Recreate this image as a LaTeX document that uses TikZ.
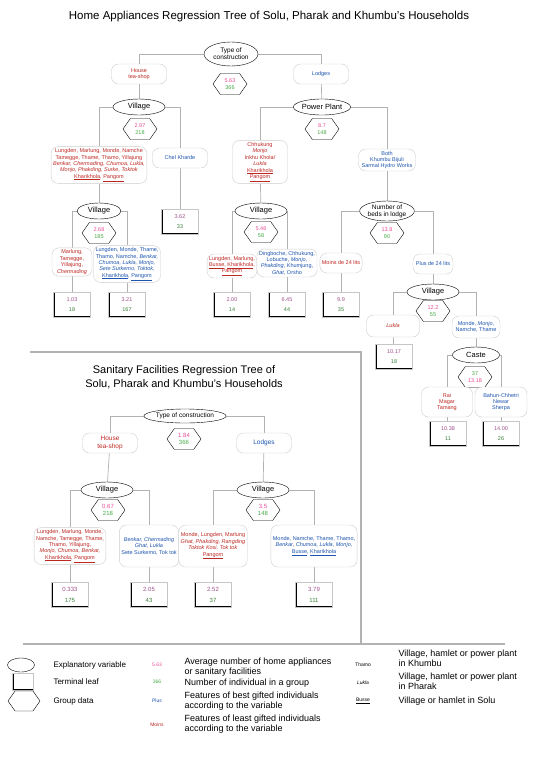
\documentclass[tikz,border=0pt]{standalone}
\usepackage{fontspec}
\setmainfont{Liberation Sans}
\usepackage{xcolor}
\usetikzlibrary{shapes.geometric,shapes.symbols,backgrounds}

\definecolor{avgpink}{RGB}{232,78,150}
\definecolor{cntgreen}{RGB}{70,170,70}
\definecolor{leafmauve}{RGB}{160,80,140}
\definecolor{leafgreen}{RGB}{60,130,60}
\definecolor{lowred}{RGB}{190,40,35}
\definecolor{highblue}{RGB}{30,85,175}

\newcommand{\grpval}[2]{\textcolor{avgpink}{#1}\\[1pt]\textcolor{cntgreen}{#2}}
\newcommand{\leafval}[2]{\textcolor{leafmauve}{#1}\\[4pt]\textcolor{leafgreen}{#2}}

\begin{document}
\begin{tikzpicture}[
  x=1pt, y=-1pt,
  varnode/.style={ellipse, draw, fill=white, inner sep=0pt,
                  minimum width=52pt, minimum height=16pt, align=center,
                  font=\fontsize{7.5}{8}\selectfont},
  catbox/.style={rectangle, rounded corners=7pt, draw=gray!40, fill=white,
                 align=center, inner sep=2pt, minimum width=40pt,
                 minimum height=20pt, font=\fontsize{5.5}{6.4}\selectfont},
  grp/.style={signal, signal to=east and west, signal pointer angle=110,
              draw, fill=white, inner sep=0pt, minimum width=34pt,
              minimum height=21pt, align=center,
              font=\fontsize{5.5}{6}\selectfont},
  leafbox/.style={rectangle, draw=gray!45, fill=white, minimum width=37pt,
                  minimum height=25pt, inner sep=0pt, align=center,
                  font=\fontsize{5.5}{6}\selectfont,
                  path picture={\draw[black, line width=2.2pt]
                    (path picture bounding box.north west) --
                    (path picture bounding box.south west) --
                    (path picture bounding box.south east);}},
  conn/.style={draw=gray!60, line width=0.7pt},
  frame/.style={draw=gray!60, line width=1.2pt},
  legtext/.style={anchor=west, align=left, font=\fontsize{9}{9.8}\selectfont},
]
\useasboundingbox (0,0) rectangle (536,772);

% Titles
\node[font=\fontsize{11.5}{13}\selectfont] (title) at (269,17)
  {Home Appliances Regression Tree of Solu, Pharak and Khumbu's Households};
\node[font=\fontsize{11}{13.5}\selectfont, align=center] (subtitle) at (184,377)
  {Sanitary Facilities Regression Tree of\\Solu, Pharak and Khumbu's Households};

% Frame of the second tree
\draw[frame] (30,352) -- (361,352) -- (361,644);
\draw[frame] (23,644) -- (505,644);

% ---------------- Home appliances tree ----------------
\node[varnode, minimum width=54pt, minimum height=24pt,
      font=\fontsize{6.5}{7}\selectfont] (t0) at (231,54) {Type of\\construction};
\node[grp] (g0) at (230,84) {\grpval{5.63}{366}};
\node[catbox, minimum width=55pt, text=lowred] (c0L) at (139,74) {House\\tea-shop};
\node[catbox, minimum width=55pt, text=highblue] (c0R) at (321,74) {Lodges};

% Village under house / tea-shop
\node[varnode] (v1) at (139,107) {Village};
\node[grp] (g1) at (140,129) {\grpval{2.97}{218}};
\node[catbox, text=lowred] (c1L) at (99,165)
  {Lungden, Marlung, Monde, Namche\\Tamegge, Thame, Thamo, Yillajung\\
   \textit{Benkar, Chermading, Chumoa, Lukla,}\\
   \textit{Monjo, Phakding, Surke, Toktok}\\
   \underline{Kharikhola}, \underline{Pangom}};
\node[catbox, minimum width=55pt, text=highblue] (c1R) at (180,158) {Chel Kharde};
\node[leafbox] (l1R) at (180,222) {\leafval{3.62}{33}};

\node[varnode, minimum width=44pt] (v2) at (99,211) {Village};
\node[grp] (g2) at (99,233) {\grpval{2.68}{185}};
\node[catbox, text=lowred] (c2L) at (72,262)
  {Marlung,\\Tamegge,\\Yillajung,\\\textit{Chermading}};
\node[catbox, text=highblue] (c2R) at (127,264)
  {Lungden, Monde, Thame,\\Thamo, Namche, \textit{Benkar,}\\
   \textit{Chumoa, Lukla, Monjo,}\\\textit{Sete Surkemo, Toktok,}\\
   \underline{Kharikhola}, \underline{Pangom}};
\node[leafbox] (l2L) at (72,305) {\leafval{1.03}{18}};
\node[leafbox] (l2R) at (127,305) {\leafval{3.21}{167}};

% Power plant under lodges
\node[varnode, minimum width=57pt] (v0R) at (322,107) {Power Plant};
\node[grp] (g0R) at (322,129) {\grpval{8.7}{148}};
\node[catbox, minimum width=55pt, text=lowred] (c3L) at (260,162)
  {Chhukung\\\textit{Monjo}\\Inkhu Khola/\\\textit{Lukla}\\
   \underline{Kharikhola}\\\underline{Pangom}};
\node[catbox, minimum width=57pt, text=highblue] (c3R) at (387,160)
  {Both\\Khumbu Bijuli\\Sarmal Hydro Works};

\node[varnode] (v3) at (261,211) {Village};
\node[grp] (g3) at (261,232) {\grpval{5.46}{58}};
\node[catbox, text=lowred] (c4L) at (232,266)
  {Lungden, Marlung,\\\underline{Busse}, \underline{Kharikhola},\\\underline{Pangom}};
\node[catbox, text=highblue] (c4R) at (287,263)
  {Dingboche, Chhukung,\\Lobuche, \textit{Monjo},\\
   \textit{Phakding}, Khumjung,\\\textit{Ghat}, Orsho};
\node[leafbox] (l4L) at (232,305) {\leafval{2.00}{14}};
\node[leafbox] (l4R) at (287,305) {\leafval{6.45}{44}};

\node[varnode, minimum height=20pt, font=\fontsize{6.5}{7}\selectfont] (v4)
  at (387,211) {Number of\\beds in lodge};
\node[grp] (g4) at (387,233) {\grpval{13.8}{90}};
\node[catbox, text=lowred] (c5L) at (341,263) {Moins de 24 lits};
\node[catbox, text=highblue] (c5R) at (433,264) {Plus de 24 lits};
\node[leafbox] (l5L) at (341,305) {\leafval{9.9}{35}};

\node[varnode] (v5) at (433,292) {Village};
\node[grp] (g5) at (433,311) {\grpval{12.2}{55}};
\node[catbox, minimum width=53pt, minimum height=22pt, text=lowred] (c6L)
  at (393,326) {\textit{Lukla}};
\node[catbox, minimum width=48pt, minimum height=22pt, text=highblue] (c6R)
  at (476,327) {Monde, \textit{Monjo},\\Namche, Thame};
\node[leafbox] (l6L) at (394,357) {\leafval{10.17}{18}};

\node[varnode, minimum width=47pt] (v6) at (476,355) {Caste};
\node[grp] (g6) at (475,377)
  {\textcolor{cntgreen}{37}\\[1pt]\textcolor{avgpink}{13.18}};
\node[catbox, minimum width=51pt, minimum height=30pt, text=lowred] (c7L)
  at (447,402) {Rai\\Magar\\Tamang};
\node[catbox, minimum width=52pt, minimum height=30pt, text=highblue] (c7R)
  at (501,402) {Bahun-Chhetri\\Newar\\Sherpa};
\node[leafbox] (l7L) at (448,434) {\leafval{10.38}{11}};
\node[leafbox] (l7R) at (501,434) {\leafval{14.00}{26}};

% ---------------- Sanitary facilities tree ----------------
\node[varnode, minimum width=76pt, minimum height=14pt,
      font=\fontsize{6.5}{7}\selectfont] (s0) at (185,416) {Type of construction};
\node[grp, font=\fontsize{6}{6.5}\selectfont] (sg0) at (184,439) {\grpval{1.84}{366}};
\node[catbox, minimum width=55pt, text=lowred,
      font=\fontsize{6.5}{7.5}\selectfont] (sc0L) at (110,443) {House\\tea-shop};
\node[catbox, minimum width=55pt, text=highblue,
      font=\fontsize{6.5}{7.5}\selectfont] (sc0R) at (264,443) {Lodges};

\node[varnode] (sv1) at (107,490) {Village};
\node[grp, font=\fontsize{6}{6.5}\selectfont] (sg1) at (108,510) {\grpval{0.67}{218}};
\node[varnode] (sv2) at (263,490) {Village};
\node[grp, font=\fontsize{6}{6.5}\selectfont] (sg2) at (263,510) {\grpval{3.5}{148}};

\node[catbox, text=lowred] (sc1L) at (70,546)
  {Lungden, Marlung, Monde,\\Namche, Tamegge, Thame,\\Thamo, Yillajung,\\
   \textit{Monjo, Chumoa, Benkar,}\\\underline{Kharikhola}, \underline{Pangom}};
\node[catbox, minimum height=42pt, text=highblue] (sc1R) at (149,546)
  {\textit{Benkar, Chermading}\\\textit{Ghat, Lukla}\\Sete Surkemo, Tok tok};
\node[catbox, minimum height=42pt, text=lowred] (sc2L) at (213,546)
  {Monde, Lungden, Marlung\\\textit{Ghat, Phakding, Rangding}\\
   \textit{Toktok Kosi, Tok tok}\\\underline{Pangom}};
\node[catbox, minimum height=42pt, text=highblue] (sc2R) at (314,546)
  {Monde, Namche, Thame, Thamo,\\\textit{Benkar, Chumoa, Lukla, Monjo,}\\
   \underline{Busse}, \underline{Kharikhola}};
\node[leafbox, font=\fontsize{6}{6.5}\selectfont] (sl1) at (70,595) {\leafval{0.333}{175}};
\node[leafbox, font=\fontsize{6}{6.5}\selectfont] (sl2) at (149,595) {\leafval{2.05}{43}};
\node[leafbox, font=\fontsize{6}{6.5}\selectfont] (sl3) at (213,595) {\leafval{2.52}{37}};
\node[leafbox, font=\fontsize{6}{6.5}\selectfont] (sl4) at (314,595) {\leafval{3.79}{111}};

% Connectors
\begin{scope}[on background layer]
  \draw[conn] (t0.west) -| (c0L);
  \draw[conn] (t0.east) -| (c0R);
  \draw[conn] (c0L) -- (v1);
  \draw[conn] (c0R) -- (v0R);
  \draw[conn] (v1.west) -| (c1L);
  \draw[conn] (v1.east) -| (c1R);
  \draw[conn] (c1L) -- (v2);
  \draw[conn] (c1R) -- (l1R);
  \draw[conn] (v2.west) -| (c2L);
  \draw[conn] (v2.east) -| (c2R);
  \draw[conn] (c2L) -- (l2L);
  \draw[conn] (c2R) -- (l2R);
  \draw[conn] (v0R.west) -| (c3L);
  \draw[conn] (v0R.east) -| (c3R);
  \draw[conn] (c3L) -- (v3);
  \draw[conn] (c3R) -- (v4);
  \draw[conn] (v3.west) -| (c4L);
  \draw[conn] (v3.east) -| (c4R);
  \draw[conn] (c4L) -- (l4L);
  \draw[conn] (c4R) -- (l4R);
  \draw[conn] (v4.west) -| (c5L);
  \draw[conn] (v4.east) -| (c5R);
  \draw[conn] (c5L) -- (l5L);
  \draw[conn] (c5R) -- (v5);
  \draw[conn] (v5.west) -| (c6L);
  \draw[conn] (v5.east) -| (c6R);
  \draw[conn] (c6L) -- (l6L);
  \draw[conn] (c6R) -- (v6);
  \draw[conn] (v6.west) -| (c7L);
  \draw[conn] (v6.east) -| (c7R);
  \draw[conn] (c7L) -- (l7L);
  \draw[conn] (c7R) -- (l7R);
  % second tree
  \draw[conn] (s0.west) -| (sc0L);
  \draw[conn] (s0.east) -| (sc0R);
  \draw[conn] (sc0L) -- (sv1);
  \draw[conn] (sc0R) -- (sv2);
  \draw[conn] (sv1.west) -| (sc1L);
  \draw[conn] (sv1.east) -| (sc1R);
  \draw[conn] (sv2.west) -| (sc2L);
  \draw[conn] (sv2.east) -| (sc2R);
  \draw[conn] (sc1L) -- (sl1);
  \draw[conn] (sc1R) -- (sl2);
  \draw[conn] (sc2L) -- (sl3);
  \draw[conn] (sc2R) -- (sl4);
\end{scope}

% ---------------- Legend ----------------
\node[varnode, minimum width=27pt, minimum height=14pt] (kvar) at (21,665) {};
\node[leafbox, minimum width=21pt, minimum height=17pt] (kleaf) at (23,682) {};
\node[grp, minimum width=32pt, minimum height=20pt] (kgrp) at (24,701) {};
\node[legtext, font=\fontsize{8}{9}\selectfont] (kvart) at (50,665) {Explanatory variable};
\node[legtext, font=\fontsize{8}{9}\selectfont] (kleaft) at (50,682) {Terminal leaf};
\node[legtext, font=\fontsize{8}{9}\selectfont] (kgrpt) at (50,701) {Group data};

\node[font=\fontsize{5}{6}\selectfont, text=avgpink] (kavg) at (157,665) {5.63};
\node[font=\fontsize{5}{6}\selectfont, text=cntgreen] (kcnt) at (157,682) {366};
\node[font=\fontsize{5}{6}\selectfont, text=highblue] (khigh) at (157,701) {Plus};
\node[font=\fontsize{5}{6}\selectfont, text=lowred] (klow) at (157,725) {Moins};
\node[legtext] (kavgt) at (181,667) {Average number of home appliances\\or sanitary facilities};
\node[legtext] (kcntt) at (181,683) {Number of individual in a group};
\node[legtext] (khight) at (181,701) {Features of best gifted individuals\\according to the variable};
\node[legtext] (klowt) at (181,724) {Features of least gifted individuals\\according to the variable};

\node[font=\fontsize{5}{6}\selectfont] (kkh) at (363,665) {Thamo};
\node[font=\fontsize{5}{6}\selectfont] (kph) at (363,683) {\textit{Lukla}};
\node[font=\fontsize{5}{6}\selectfont] (kso) at (363,701) {\underline{Busse}};
\node[legtext] (kkht) at (395,658) {Village, hamlet or power plant\\in Khumbu};
\node[legtext] (kpht) at (395,681) {Village, hamlet or power plant\\in Pharak};
\node[legtext] (ksot) at (395,701) {Village or hamlet in Solu};

\end{tikzpicture}
\end{document}
